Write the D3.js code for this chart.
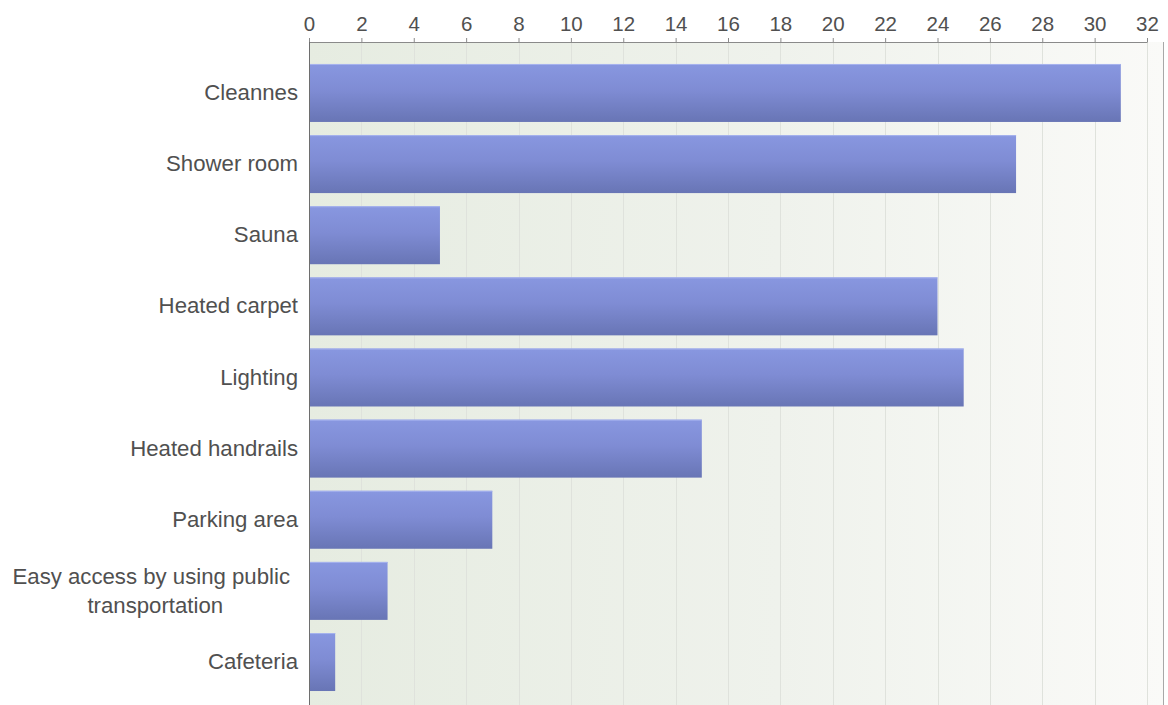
<!DOCTYPE html>
<html>
<head>
<meta charset="utf-8">
<script src="https://cdn.jsdelivr.net/npm/d3@7/dist/d3.min.js"></script>
<style>
  html, body { margin: 0; padding: 0; background: #ffffff; }
  svg { display: block; }
  text { font-family: "Liberation Sans", Arial, sans-serif; }
</style>
</head>
<body>
<svg id="chart" width="1168" height="705"></svg>
<script>
// ---- data ----
const categories = [
  "Cleannes",
  "Shower room",
  "Sauna",
  "Heated carpet",
  "Lighting",
  "Heated handrails",
  "Parking area",
  "Easy access by using public transportation",
  "Cafeteria"
];
const values = [31, 27, 5, 24, 25, 15, 7, 3, 1];
const xTicks = [0, 2, 4, 6, 8, 10, 12, 14, 16, 18, 20, 22, 24, 26, 28, 30, 32];
const labelLines = {
  "Easy access by using public transportation": ["Easy access by using public", "transportation"]
};

// ---- layout ----
const W = 1168, H = 705;
const plotLeft = 309, plotRight = 1163, plotTop = 42, plotBottom = 712;

const svg = d3.select("#chart");
const defs = svg.append("defs");

const bg = defs.append("linearGradient").attr("id", "bgGrad")
  .attr("x1", "0%").attr("x2", "100%").attr("y1", "0%").attr("y2", "0%");
bg.append("stop").attr("offset", "0%").attr("stop-color", "#e6ece1");
bg.append("stop").attr("offset", "55%").attr("stop-color", "#eff2ec");
bg.append("stop").attr("offset", "100%").attr("stop-color", "#fafaf8");

const barG = defs.append("linearGradient").attr("id", "barGrad")
  .attr("x1", "0%").attr("x2", "0%").attr("y1", "0%").attr("y2", "100%");
barG.append("stop").attr("offset", "0%").attr("stop-color", "#8897e0");
barG.append("stop").attr("offset", "45%").attr("stop-color", "#7f8cd4");
barG.append("stop").attr("offset", "100%").attr("stop-color", "#6875b5");

const x = d3.scaleLinear().domain([0, 32]).range([plotLeft, 1147]);
const y = d3.scaleBand().domain(categories).range([57.4, 697.6])
  .paddingInner(0.185).paddingOuter(0.0925);

// plot background
svg.append("rect")
  .attr("x", plotLeft).attr("y", plotTop)
  .attr("width", plotRight - plotLeft).attr("height", plotBottom - plotTop)
  .attr("fill", "url(#bgGrad)");

// gridlines
svg.append("g").selectAll("line")
  .data(xTicks.filter(d => d > 0))
  .join("line")
  .attr("x1", d => Math.round(x(d)) + 0.5).attr("x2", d => Math.round(x(d)) + 0.5)
  .attr("y1", plotTop).attr("y2", plotBottom)
  .attr("stroke", "#dfe2dc").attr("stroke-width", 1);

// right border
svg.append("line")
  .attr("x1", plotRight + 0.5).attr("x2", plotRight + 0.5)
  .attr("y1", plotTop).attr("y2", plotBottom)
  .attr("stroke", "#a8a8a8").attr("stroke-width", 1);

// bars
const bars = svg.append("g");
bars.selectAll("rect.bar")
  .data(categories)
  .join("rect").attr("class", "bar")
  .attr("x", x(0))
  .attr("y", d => y(d))
  .attr("width", (d, i) => x(values[i]) - x(0))
  .attr("height", y.bandwidth())
  .attr("fill", "url(#barGrad)");
bars.selectAll("line.hl")
  .data(categories)
  .join("line").attr("class", "hl")
  .attr("x1", x(0)).attr("x2", (d, i) => x(values[i]))
  .attr("y1", d => y(d) + 0.5).attr("y2", d => y(d) + 0.5)
  .attr("stroke", "#a7b3ee").attr("stroke-width", 1);

// top axis
const xAxis = d3.axisTop(x).tickValues(xTicks).tickSize(4).tickPadding(7).tickSizeOuter(0);
const gx = svg.append("g").attr("transform", `translate(0,${plotTop})`).call(xAxis);
gx.select(".domain").attr("stroke", "#8a8a8a");
gx.selectAll(".tick line").attr("stroke", "#8a8a8a");
gx.selectAll(".tick text").attr("fill", "#505050").style("font-size", "20.5px");

// left axis
const yAxis = d3.axisLeft(y).tickSize(0).tickPadding(11);
const gy = svg.append("g").attr("transform", `translate(${plotLeft},0)`).call(yAxis);
gy.select(".domain").remove();
svg.append("line")
  .attr("x1", plotLeft + 0.5).attr("x2", plotLeft + 0.5)
  .attr("y1", plotTop).attr("y2", plotBottom)
  .attr("stroke", "#6e6e6e").attr("stroke-width", 1);

gy.selectAll(".tick text")
  .attr("fill", "#505050")
  .style("font-size", "22.2px")
  .each(function(d) {
    const lines = labelLines[d];
    if (!lines) return;
    const t = d3.select(this);
    t.text(null).attr("dy", null);
    const t1 = t.append("tspan").text(lines[0]).attr("x", -19).attr("dy", "-0.3em").attr("text-anchor", "end");
    const w1 = t1.node().getComputedTextLength();
    const cx = -19 - w1 / 2 + 4;
    t.append("tspan").text(lines[1]).attr("x", cx).attr("dy", "1.28em").attr("text-anchor", "middle");
  });
</script>
</body>
</html>
